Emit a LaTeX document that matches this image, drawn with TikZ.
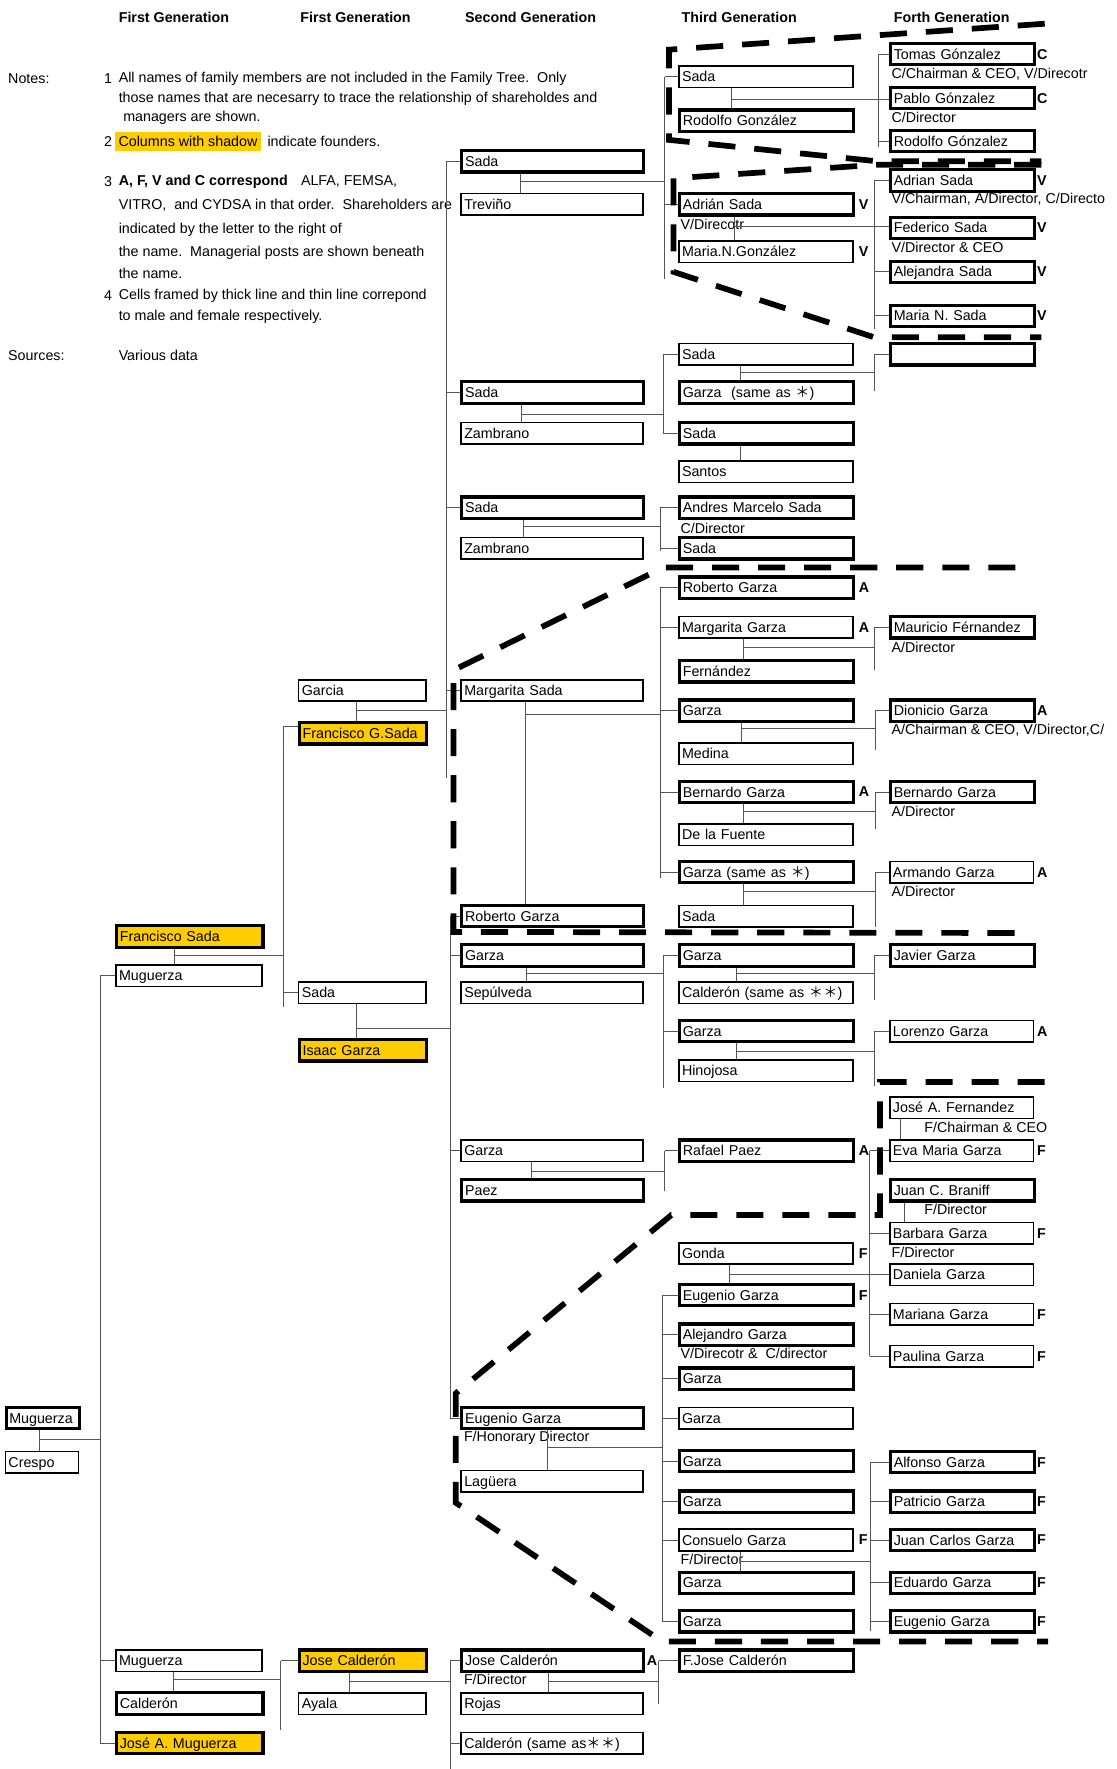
\documentclass[tikz,border=0pt]{standalone}
\usepackage{fontspec}
\setmainfont{Liberation Sans}
\newfontfamily\cjk{Noto Sans CJK SC}
\usetikzlibrary{positioning}
\definecolor{shadowyellow}{RGB}{255,204,0}
\definecolor{linkgray}{RGB}{85,85,85}

\begin{document}
\begin{tikzpicture}[
        x=0.025cm, y=-0.025cm,
        font=\fontsize{9}{11}\selectfont,
        person/.style={rectangle, anchor=west, align=left, inner xsep=2pt, inner ysep=0pt, minimum height=0.475cm, text height=1.6ex, text depth=0.4ex},
        male/.style={person, draw, line width=2pt},
        female/.style={person, draw, line width=1pt},
        founder/.style={fill=shadowyellow},
        colA/.style={text width=1.48cm},
        colB/.style={text width=3.1cm},
        colC/.style={text width=2.68cm},
        colD/.style={text width=3.89cm},
        colE/.style={text width=3.72cm},
        colF/.style={text width=3.04cm},
        share/.style={anchor=west, inner sep=0pt, font=\fontsize{9}{11}\selectfont\bfseries},
        post/.style={anchor=west, inner sep=0pt},
        note/.style={anchor=west, inner sep=0pt},
        header/.style={anchor=west, inner sep=0pt, font=\fontsize{9}{11}\selectfont\bfseries},
        link/.style={draw=linkgray, line width=0.6pt},
        group/.style={draw, line width=3.6pt, dash pattern=on 0.6cm off 0.42cm}
        ]

        \useasboundingbox (0,0) rectangle (990,1568);

        % Headers
        \node (hd1) [header] at (105,15.5) {First Generation};
        \node (hd2) [header] at (266,15.5) {First Generation};
        \node (hd3) [header] at (412,15.5) {Second Generation};
        \node (hd4) [header] at (604,15.5) {Third Generation};
        \node (hd5) [header] at (792,15.5) {Forth Generation};

        % Notes
        \node (notes) [note] at (7,70) {Notes:};
        \node (num1) [note] at (92,70) {1};
        \node (n1a) [note] at (105,70) {All names of family members are not included in the Family Tree.\ \ Only};
        \node (n1b) [note] at (105,88) {those names that are necesarry to trace the relationship of shareholdes and};
        \node (n1c) [note] at (109,104.5) {managers are shown.};
        \node (num2) [note] at (92,125.5) {2};
        \node (n2a) [note, fill=shadowyellow, inner xsep=2pt, minimum height=0.425cm] at (102,125.5) {Columns with shadow};
        \node (n2b) [note, right=0.14cm of n2a] {indicate founders.};
        \node (num3) [note] at (92,161) {3};
        \node (n3a) [note, font=\fontsize{9}{11}\selectfont\bfseries] at (105,161) {A, F, V and C correspond};
        \node (n3b) [note, right=0.28cm of n3a] {ALFA, FEMSA,};
        \node (n3c) [note] at (105,182) {VITRO,\ \ and CYDSA in that order.\ \ Shareholders are};
        \node (n3d) [note] at (105,204) {indicated by the letter to the right of};
        \node (n3e) [note] at (105,224) {the name.\ \ Managerial posts are shown beneath};
        \node (n3f) [note] at (105,242) {the name.};
        \node (num4) [note] at (92,262) {4};
        \node (n4a) [note] at (105,262) {Cells framed by thick line and thin line correpond};
        \node (n4b) [note] at (105,281) {to male and female respectively.};
        \node (sources) [note] at (7,315) {Sources:};
        \node (src) [note] at (105,315) {Various data};

        % First generation
        \node (a1) [male, colA] at (4,1257) {Muguerza};
        \node (a2) [female, colA] at (4,1296) {Crespo};

        \node (b1) [male, founder, colB] at (102,830) {Francisco Sada};
        \node (b2) [female, colB] at (102,865) {Muguerza};
        \node (b3) [female, colB] at (102,1472) {Muguerza};
        \node (b4) [male, colB] at (102,1510) {Calderón};
        \node (b5) [male, founder, colB] at (102,1545) {José A. Muguerza};

        \node (c1) [female, colC] at (264,612) {Garcia};
        \node (c2) [male, founder, colC] at (264,650) {Francisco G.Sada};
        \node (c3) [female, colC] at (264,880) {Sada};
        \node (c4) [male, founder, colC] at (264,931) {Isaac Garza};
        \node (c5) [male, founder, colC] at (264,1472) {Jose Calderón};
        \node (c6) [female, colC] at (264,1510) {Ayala};

        % Second generation
        \node (d1) [male, colD] at (408,143) {Sada};
        \node (d2) [female, colD] at (408,181) {Treviño};
        \node (d3) [male, colD] at (408,348) {Sada};
        \node (d4) [female, colD] at (408,384) {Zambrano};
        \node (d5) [male, colD] at (408,450) {Sada};
        \node (d6) [female, colD] at (408,486) {Zambrano};
        \node (d7) [female, colD] at (408,612) {Margarita Sada};
        \node (d8) [male, colD] at (408,812) {Roberto Garza};
        \node (d9) [male, colD] at (408,847) {Garza};
        \node (d10) [female, colD] at (408,880) {Sepúlveda};
        \node (d11) [female, colD] at (408,1020) {Garza};
        \node (d12) [male, colD] at (408,1055) {Paez};
        \node (d13) [male, colD] at (408,1257) {Eugenio Garza};
        \node (d14) [female, colD] at (408,1313) {Lagüera};
        \node (d15) [male, colD] at (408,1472) {Jose Calderón};
        \node (d16) [female, colD] at (408,1510) {Rojas};
        \node (d17) [female, colD] at (408,1545) {Calderón (same as{\cjk ＊＊})};

        % Third generation
        \node (e1) [female, colE] at (601,68) {Sada};
        \node (e2) [male, colE] at (601,107) {Rodolfo González};
        \node (e3) [male, colE] at (601,181) {Adrián Sada};
        \node (e4) [female, colE] at (601,223) {Maria.N.González};
        \node (e5) [female, colE] at (601,314) {Sada};
        \node (e6) [male, colE] at (601,348) {Garza~~(same as {\cjk ＊})};
        \node (e7) [male, colE] at (601,384) {Sada};
        \node (e8) [female, colE] at (601,418) {Santos};
        \node (e9) [male, colE] at (601,450) {Andres Marcelo Sada};
        \node (e10) [male, colE] at (601,486) {Sada};
        \node (e11) [male, colE] at (601,521) {Roberto Garza};
        \node (e12) [female, colE] at (601,556) {Margarita Garza};
        \node (e13) [male, colE] at (601,595) {Fernández};
        \node (e14) [male, colE] at (601,630) {Garza};
        \node (e15) [female, colE] at (601,668) {Medina};
        \node (e16) [male, colE] at (601,702) {Bernardo Garza};
        \node (e17) [female, colE] at (601,740) {De la Fuente};
        \node (e18) [male, colE] at (601,773) {Garza (same as {\cjk ＊})};
        \node (e19) [female, colE] at (601,812) {Sada};
        \node (e20) [male, colE] at (601,847) {Garza};
        \node (e21) [female, colE] at (601,880) {Calderón (same as {\cjk ＊＊})};
        \node (e22) [male, colE] at (601,914) {Garza};
        \node (e23) [female, colE] at (601,949) {Hinojosa};
        \node (e24) [male, colE] at (601,1020) {Rafael Paez};
        \node (e25) [female, colE] at (601,1111) {Gonda};
        \node (e26) [male, colE] at (601,1148) {Eugenio Garza};
        \node (e27) [male, colE] at (601,1183) {Alejandro Garza};
        \node (e28) [male, colE] at (601,1222) {Garza};
        \node (e29) [female, colE] at (601,1257) {Garza};
        \node (e30) [male, colE] at (601,1295) {Garza};
        \node (e31) [male, colE] at (601,1331) {Garza};
        \node (e32) [female, colE] at (601,1365) {Consuelo Garza};
        \node (e33) [male, colE] at (601,1403) {Garza};
        \node (e34) [male, colE] at (601,1437) {Garza};
        \node (e35) [male, colE] at (601,1472) {F.Jose Calderón};

        % Forth generation
        \node (f1) [male, colF] at (788,48) {Tomas Gónzalez};
        \node (f2) [male, colF] at (788,87) {Pablo Gónzalez};
        \node (f3) [male, colF] at (788,125) {Rodolfo Gónzalez};
        \node (f4) [male, colF] at (788,160) {Adrian Sada};
        \node (f5) [male, colF] at (788,202) {Federico Sada};
        \node (f6) [male, colF] at (788,241) {Alejandra Sada};
        \node (f7) [male, colF] at (788,280) {Maria N. Sada};
        \node (f8) [male, colF] at (788,314) {};
        \node (f9) [male, colF] at (788,556) {Mauricio Férnandez};
        \node (f10) [male, colF] at (788,630) {Dionicio Garza};
        \node (f11) [male, colF] at (788,702) {Bernardo Garza};
        \node (f12) [female, colF] at (788,773) {Armando Garza};
        \node (f13) [male, colF] at (788,847) {Javier Garza};
        \node (f14) [female, colF] at (788,914) {Lorenzo Garza};
        \node (f15) [female, colF] at (788,982) {José A. Fernandez};
        \node (f16) [female, colF] at (788,1020) {Eva Maria Garza};
        \node (f17) [male, colF] at (788,1055) {Juan C. Braniff};
        \node (f18) [female, colF] at (788,1093) {Barbara Garza};
        \node (f19) [female, colF] at (788,1130) {Daniela Garza};
        \node (f20) [female, colF] at (788,1165) {Mariana Garza};
        \node (f21) [female, colF] at (788,1202) {Paulina Garza};
        \node (f22) [male, colF] at (788,1296) {Alfonso Garza};
        \node (f23) [male, colF] at (788,1331) {Patricio Garza};
        \node (f24) [male, colF] at (788,1365) {Juan Carlos Garza};
        \node (f25) [male, colF] at (788,1403) {Eduardo Garza};
        \node (f26) [male, colF] at (788,1437) {Eugenio Garza};

        % Shareholders
        \node (sD15) [share] at (573,1472) {A};
        \node (sE3) [share] at (761,181) {V};
        \node (sE4) [share] at (761,223) {V};
        \node (sE11) [share] at (761,521) {A};
        \node (sE12) [share] at (761,556) {A};
        \node (sE16) [share] at (761,702) {A};
        \node (sE24) [share] at (761,1020) {A};
        \node (sE25) [share] at (761,1111) {F};
        \node (sE26) [share] at (761,1148) {F};
        \node (sE32) [share] at (761,1365) {F};
        \node (sF1) [share] at (919,48) {C};
        \node (sF2) [share] at (919,87) {C};
        \node (sF4) [share] at (919,160) {V};
        \node (sF5) [share] at (919,202) {V};
        \node (sF6) [share] at (919,241) {V};
        \node (sF7) [share] at (919,280) {V};
        \node (sF10) [share] at (919,630) {A};
        \node (sF12) [share] at (919,773) {A};
        \node (sF14) [share] at (919,914) {A};
        \node (sF16) [share] at (919,1020) {F};
        \node (sF18) [share] at (919,1093) {F};
        \node (sF20) [share] at (919,1165) {F};
        \node (sF21) [share] at (919,1202) {F};
        \node (sF22) [share] at (919,1296) {F};
        \node (sF23) [share] at (919,1331) {F};
        \node (sF24) [share] at (919,1365) {F};
        \node (sF25) [share] at (919,1403) {F};
        \node (sF26) [share] at (919,1437) {F};

        % Managerial posts
        \node (pD13) [post] at (411,1274) {F/Honorary Director};
        \node (pD15) [post] at (411,1489) {F/Director};
        \node (pE3) [post] at (603,198.5) {V/Direcotr};
        \node (pE9) [post] at (603,468) {C/Director};
        \node (pE27) [post] at (603,1200) {V/Direcotr \&\ \ C/director};
        \node (pE32) [post] at (603,1382) {F/Director};
        \node (pF1) [post] at (790,65.5) {C/Chairman \& CEO, V/Direcotr};
        \node (pF2) [post] at (790,104) {C/Director};
        \node (pF4) [post] at (790,177) {V/Chairman, A/Director, C/Directo};
        \node (pF5) [post] at (790,219.5) {V/Director \& CEO};
        \node (pF9) [post] at (790,573.5) {A/Director};
        \node (pF10) [post] at (790,647) {A/Chairman \& CEO, V/Director,C/};
        \node (pF11) [post] at (790,719) {A/Director};
        \node (pF12) [post] at (790,790) {A/Director};
        \node (pF15) [post] at (819,999) {F/Chairman \& CEO};
        \node (pF17) [post] at (819,1072) {F/Director};
        \node (pF18) [post] at (790,1110) {F/Director};

        % Links of the first generation
        \coordinate (kA) at (35,1276);
        \coordinate (busB) at (89,865);
        \draw [link] (a1.south -| kA) -- (a2.north -| kA);
        \draw [link] (kA) -- (kA -| busB);
        \draw [link] (busB) -- (busB |- b5.west);
        \draw [link] (busB) -- (b2.west);
        \draw [link] (busB |- b3.west) -- (b3.west);
        \draw [link] (busB |- b5.west) -- (b5.west);

        \coordinate (kB1) at (155,847);
        \coordinate (busC) at (251,644);
        \coordinate (busCe) at (251,893);
        \draw [link] (b1.south -| kB1) -- (b2.north -| kB1);
        \draw [link] (kB1) -- (kB1 -| busC);
        \draw [link] (busC) -- (busCe);
        \draw [link] (busC) -- (busC -| c2.west);
        \draw [link] (busC |- c3.west) -- (c3.west);

        \coordinate (kB2) at (154,1489);
        \coordinate (busC3) at (249,1472);
        \coordinate (busC3e) at (249,1533);
        \draw [link] (b3.south -| kB2) -- (b4.north -| kB2);
        \draw [link] (kB2) -- (kB2 -| busC3);
        \draw [link] (busC3) -- (busC3e);
        \draw [link] (busC3) -- (c5.west);

        \coordinate (kC1) at (316,630);
        \coordinate (busD1) at (396,143);
        \coordinate (busD1e) at (396,690);
        \draw [link] (c1.south -| kC1) -- (c2.north -| kC1);
        \draw [link] (kC1) -- (kC1 -| busD1);
        \draw [link] (busD1) -- (busD1e);
        \draw [link] (busD1) -- (d1.west);
        \draw [link] (busD1 |- d3.west) -- (d3.west);
        \draw [link] (busD1 |- d5.west) -- (d5.west);
        \draw [link] (busD1 |- d7.west) -- (d7.west);

        \coordinate (kC2) at (316,912);
        \coordinate (busD2) at (399,812);
        \draw [link] (c3.south -| kC2) -- (c4.north -| kC2);
        \draw [link] (kC2) -- (kC2 -| busD2);
        \draw [link] (busD2) -- (busD2 |- d13.west);
        \draw [link] (busD2) -- (d8.west);
        \draw [link] (busD2 |- d9.west) -- (d9.west);
        \draw [link] (busD2 |- d11.west) -- (d11.west);
        \draw [link] (busD2 |- d13.west) -- (d13.west);

        \coordinate (kC3) at (310,1490);
        \coordinate (busD3) at (399,1472);
        \coordinate (busD3e) at (399,1568);
        \draw [link] (c5.south -| kC3) -- (c6.north -| kC3);
        \draw [link] (kC3) -- (kC3 -| busD3);
        \draw [link] (busD3) -- (busD3e);
        \draw [link] (busD3) -- (d15.west);
        \draw [link] (busD3 |- d17.west) -- (d17.west);

        % Links of the second generation
        \coordinate (kD1) at (461,161);
        \coordinate (busE1) at (589,68);
        \coordinate (busE1e) at (589,247);
        \draw [link] (d1.south -| kD1) -- (d2.north -| kD1);
        \draw [link] (kD1) -- (kD1 -| busE1);
        \draw [link] (busE1) -- (busE1e);
        \draw [link] (busE1) -- (e1.west);
        \draw [link] (busE1 |- e3.west) -- (e3.west);

        \coordinate (kD2) at (462,367);
        \coordinate (busE2) at (588,314);
        \draw [link] (d3.south -| kD2) -- (d4.north -| kD2);
        \draw [link] (kD2) -- (kD2 -| busE2);
        \draw [link] (busE2) -- (busE2 |- e7.west);
        \draw [link] (busE2) -- (e5.west);
        \draw [link] (busE2 |- e7.west) -- (e7.west);

        \coordinate (kD3) at (464,467);
        \coordinate (busE3) at (585,450);
        \coordinate (busE3e) at (585,488);
        \draw [link] (d5.south -| kD3) -- (d6.north -| kD3);
        \draw [link] (kD3) -- (kD3 -| busE3);
        \draw [link] (busE3) -- (busE3e);
        \draw [link] (busE3) -- (e9.west);
        \draw [link] (busE3 |- e10.west) -- (e10.west);

        \coordinate (kD4) at (466,633);
        \coordinate (busE4) at (585,521);
        \coordinate (busE4e) at (585,778);
        \draw [link] (d7.south -| kD4) -- (d8.north -| kD4);
        \draw [link] (kD4) -- (kD4 -| busE4);
        \draw [link] (busE4) -- (busE4e);
        \draw [link] (busE4) -- (e11.west);
        \draw [link] (busE4 |- e12.west) -- (e12.west);
        \draw [link] (busE4 |- e14.west) -- (e14.west);
        \draw [link] (busE4 |- e16.west) -- (e16.west);
        \draw [link] (busE4 |- e18.west) -- (e18.west);

        \coordinate (kD5) at (467,863);
        \coordinate (busE5) at (588,847);
        \coordinate (busE5e) at (588,964);
        \draw [link] (d9.south -| kD5) -- (d10.north -| kD5);
        \draw [link] (kD5) -- (kD5 -| busE5);
        \draw [link] (busE5) -- (busE5e);
        \draw [link] (busE5) -- (e20.west);
        \draw [link] (busE5 |- e22.west) -- (e22.west);

        \coordinate (kD6) at (471,1038);
        \coordinate (busE6) at (589,1020);
        \coordinate (busE6e) at (589,1056);
        \draw [link] (d11.south -| kD6) -- (d12.north -| kD6);
        \draw [link] (kD6) -- (kD6 -| busE6);
        \draw [link] (busE6) -- (busE6e);
        \draw [link] (busE6) -- (e24.west);

        \coordinate (kD7) at (485,1283);
        \coordinate (busE7) at (587,1148);
        \coordinate (busE7e) at (587,1437);
        \draw [link] (d13.south -| kD7) -- (d14.north -| kD7);
        \draw [link] (kD7) -- (kD7 -| busE7);
        \draw [link] (busE7) -- (busE7e);
        \draw [link] (busE7) -- (e26.west);
        \draw [link] (busE7 |- e27.west) -- (e27.west);
        \draw [link] (busE7 |- e28.west) -- (e28.west);
        \draw [link] (busE7 |- e29.west) -- (e29.west);
        \draw [link] (busE7 |- e30.west) -- (e30.west);
        \draw [link] (busE7 |- e31.west) -- (e31.west);
        \draw [link] (busE7 |- e32.west) -- (e32.west);
        \draw [link] (busE7 |- e34.west) -- (e34.west);

        \coordinate (kD8) at (486,1490);
        \coordinate (busE8) at (584,1472);
        \coordinate (busE8e) at (584,1510);
        \draw [link] (d15.south -| kD8) -- (d16.north -| kD8);
        \draw [link] (kD8) -- (kD8 -| busE8);
        \draw [link] (busE8) -- (busE8e);
        \draw [link] (busE8) -- (e35.west);

        % Links of the third generation
        \coordinate (kE1) at (648,88);
        \coordinate (busF1) at (779,48);
        \coordinate (busF1e) at (779,130);
        \draw [link] (e1.south -| kE1) -- (e2.north -| kE1);
        \draw [link] (kE1) -- (kE1 -| f2.west);
        \draw [link] (busF1) -- (busF1e);
        \draw [link] (busF1) -- (f1.west);
        \draw [link] (busF1 |- f3.west) -- (f3.west);

        \coordinate (kE2) at (651,201);
        \coordinate (busF2) at (775,160);
        \coordinate (busF2e) at (775,292);
        \draw [link] (e3.south -| kE2) -- (e4.north -| kE2);
        \draw [link] (kE2) -- (kE2 -| f5.west);
        \draw [link] (busF2) -- (busF2e);
        \draw [link] (busF2) -- (f4.west);
        \draw [link] (busF2 |- f6.west) -- (f6.west);
        \draw [link] (busF2 |- f7.west) -- (f7.west);

        \coordinate (kE3) at (656,330);
        \coordinate (busF3) at (775,314);
        \coordinate (busF3e) at (775,347);
        \draw [link] (e5.south -| kE3) -- (e6.north -| kE3);
        \draw [link] (kE3) -- (kE3 -| busF3);
        \draw [link] (busF3) -- (busF3e);
        \draw [link] (busF3) -- (f8.west);

        \coordinate (kE4) at (656,401);
        \draw [link] (e7.south -| kE4) -- (e8.north -| kE4);

        \coordinate (kE5) at (659,574);
        \coordinate (busF5) at (775,556);
        \coordinate (busF5e) at (775,594);
        \draw [link] (e12.south -| kE5) -- (e13.north -| kE5);
        \draw [link] (kE5) -- (kE5 -| busF5);
        \draw [link] (busF5) -- (busF5e);
        \draw [link] (busF5) -- (f9.west);

        \coordinate (kE6) at (657,646);
        \coordinate (busF6) at (776,630);
        \coordinate (busF6e) at (776,665);
        \draw [link] (e14.south -| kE6) -- (e15.north -| kE6);
        \draw [link] (kE6) -- (kE6 -| busF6);
        \draw [link] (busF6) -- (busF6e);
        \draw [link] (busF6) -- (f10.west);

        \coordinate (kE7) at (659,719);
        \coordinate (busF7) at (776,702);
        \coordinate (busF7e) at (776,735);
        \draw [link] (e16.south -| kE7) -- (e17.north -| kE7);
        \draw [link] (kE7) -- (kE7 -| busF7);
        \draw [link] (busF7) -- (busF7e);
        \draw [link] (busF7) -- (f11.west);

        \coordinate (kE8) at (659,790);
        \coordinate (busF8) at (776,773);
        \coordinate (busF8e) at (776,822);
        \draw [link] (e18.south -| kE8) -- (e19.north -| kE8);
        \draw [link] (kE8) -- (kE8 -| busF8);
        \draw [link] (busF8) -- (busF8e);
        \draw [link] (busF8) -- (f12.west);

        \coordinate (kE9) at (653,863);
        \coordinate (busF9) at (775,847);
        \coordinate (busF9e) at (775,886);
        \draw [link] (e20.south -| kE9) -- (e21.north -| kE9);
        \draw [link] (kE9) -- (kE9 -| busF9);
        \draw [link] (busF9) -- (busF9e);
        \draw [link] (busF9) -- (f13.west);

        \coordinate (kE10) at (653,932);
        \coordinate (busF10) at (775,914);
        \coordinate (busF10e) at (775,963);
        \draw [link] (e22.south -| kE10) -- (e23.north -| kE10);
        \draw [link] (kE10) -- (kE10 -| busF10);
        \draw [link] (busF10) -- (busF10e);
        \draw [link] (busF10) -- (f14.west);

        \coordinate (kE11) at (647,1130);
        \coordinate (busF11) at (771,1020);
        \draw [link] (e25.south -| kE11) -- (e26.north -| kE11);
        \draw [link] (kE11) -- (kE11 -| f19.west);
        \draw [link] (busF11) -- (busF11 |- f21.west);
        \draw [link] (busF11) -- (f16.west);
        \draw [link] (busF11 |- f18.west) -- (f18.west);
        \draw [link] (busF11 |- f20.west) -- (f20.west);
        \draw [link] (busF11 |- f21.west) -- (f21.west);

        \coordinate (kE12) at (656,1384);
        \coordinate (busF12) at (772,1296);
        \coordinate (busF12e) at (772,1446);
        \draw [link] (e32.south -| kE12) -- (e33.north -| kE12);
        \draw [link] (kE12) -- (kE12 -| busF12);
        \draw [link] (busF12) -- (busF12e);
        \draw [link] (busF12) -- (f22.west);
        \draw [link] (busF12 |- f23.west) -- (f23.west);
        \draw [link] (busF12 |- f24.west) -- (f24.west);
        \draw [link] (busF12 |- f25.west) -- (f25.west);
        \draw [link] (busF12 |- f26.west) -- (f26.west);

        % Links of the forth generation
        \coordinate (kF1) at (798,1001);
        \draw [link] (f15.south -| kF1) -- (f16.north -| kF1);
        \coordinate (kF2) at (802,1074);
        \draw [link] (f17.south -| kF2) -- (f18.north -| kF2);

        % Groups
        \draw [group] (926,21) -- (593,44) -- (593,124) -- (778,143) -- (923,143);
        \draw [group] (923,146) -- (778,146) -- (597,158) -- (597,241) -- (775,299) -- (923,299);
        \draw [group] (900,503) -- (588,503) -- (402,594) -- (402,826) -- (913,827);
        \draw [group] (926,959) -- (780,959) -- (780,1077) -- (595,1077) -- (404,1235) -- (404,1332) -- (587,1455) -- (929,1455);

    \end{tikzpicture}
\end{document}
